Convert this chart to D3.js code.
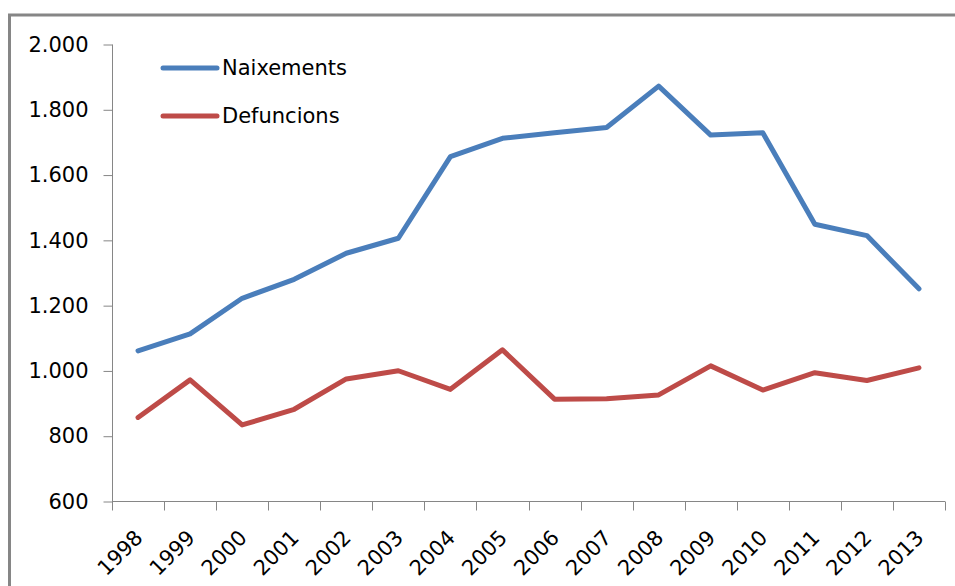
<!DOCTYPE html>
<html>
<head>
<meta charset="utf-8">
<script src="https://cdn.jsdelivr.net/npm/d3@7"></script>
<style>
  html, body { margin: 0; padding: 0; background: #fff; }
  svg { display: block; }
  text { font-family: "DejaVu Sans", sans-serif; fill: #000; }
</style>
</head>
<body>
<svg id="chart" width="955" height="586"></svg>
<script>
const years = ["1998","1999","2000","2001","2002","2003","2004","2005","2006","2007","2008","2009","2010","2011","2012","2013"];
const naixements = [1060,1112,1221,1279,1359,1405,1655,1711,1728,1744,1871,1721,1728,1448,1413,1250];
const defuncions = [856,971,833,881,974,999,942,1063,912,913,925,1014,940,993,969,1008];
const yTicks = [600,800,1000,1200,1400,1600,1800,2000];
const seriesNames = ["Naixements","Defuncions"];
const seriesColors = ["#4A7EBB","#BE4B48"];

(function () {
const svg = d3.select("#chart");
const axisColor = "#868686";

// outer chart border (cropped at right/bottom)
svg.append("rect")
  .attr("x", 9.5).attr("y", 15)
  .attr("width", 1000).attr("height", 1000)
  .attr("fill", "none").attr("stroke", axisColor).attr("stroke-width", 3);

const pl = 112, pr = 945, pt = 44, pb = 501;
const x = d3.scaleBand().domain(years).range([pl, pr]).padding(0);
const y = d3.scaleLinear().domain([600, 2000]).range([pb, pt]);

const fmt = v => d3.format(",")(v).replace(/,/g, ".");

// Y axis
const yAxis = d3.axisLeft(y).tickValues(yTicks).tickSize(9).tickPadding(15).tickFormat(fmt);
const gy = svg.append("g").attr("transform", `translate(${pl + 0.5},0.5)`).call(yAxis);
gy.select(".domain").attr("stroke", axisColor).attr("d", `M0,${pt}V${pb}`);
gy.selectAll(".tick line").attr("stroke", axisColor);
gy.selectAll(".tick text").attr("font-size", 21).attr("fill", "#000")
  .attr("font-family", "DejaVu Sans");

// X axis
const xAxis = d3.axisBottom(x).tickSize(0).tickFormat("");
const gx = svg.append("g").attr("transform", `translate(0,${pb + 0.5})`).call(xAxis);
gx.select(".domain").attr("stroke", axisColor).attr("d", `M${pl},0H${pr}`);
const boundaries = years.map(d => x(d)).concat([pr]);
gx.selectAll(".bnd").data(boundaries).enter().append("line")
  .attr("x1", d => Math.round(d) + 0.5).attr("x2", d => Math.round(d) + 0.5)
  .attr("y1", 0).attr("y2", 9).attr("stroke", axisColor);

svg.append("g").selectAll("text").data(years).enter().append("text")
  .attr("transform", d => `translate(${x(d) + x.bandwidth() / 2 + 6},539) rotate(-45)`)
  .attr("text-anchor", "end")
  .attr("font-size", 21)
  .text(d => d);

// Lines
const line = d3.line()
  .x((d, i) => x(years[i]) + x.bandwidth() / 2)
  .y(d => y(d));

[naixements, defuncions].forEach((data, k) => {
  svg.append("path")
    .datum(data)
    .attr("d", line)
    .attr("fill", "none")
    .attr("stroke", seriesColors[k])
    .attr("stroke-width", 5)
    .attr("stroke-linejoin", "round")
    .attr("stroke-linecap", "round");
});

// Legend
const legendY = [68, 116];
const lg = svg.append("g");
seriesNames.forEach((name, k) => {
  lg.append("line")
    .attr("x1", 163).attr("x2", 217)
    .attr("y1", legendY[k]).attr("y2", legendY[k])
    .attr("stroke", seriesColors[k]).attr("stroke-width", 5)
    .attr("stroke-linecap", "round");
  lg.append("text")
    .attr("x", 222).attr("y", legendY[k] + 7)
    .attr("font-size", 21)
    .text(name);
});
})();
</script>
</body>
</html>
